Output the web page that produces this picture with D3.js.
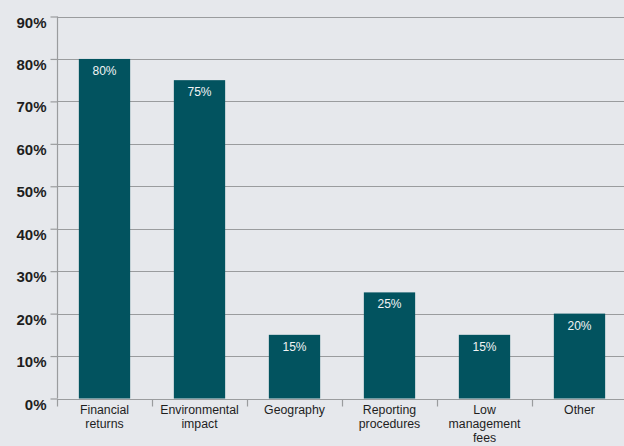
<!DOCTYPE html>
<html>
<head>
<meta charset="utf-8">
<script src="https://cdn.jsdelivr.net/npm/d3@7"></script>
<style>
  html, body { margin: 0; padding: 0; background: #e6e8ec; }
  svg { display: block; }
</style>
</head>
<body>
<svg id="chart" width="624" height="446"></svg>
<script>
// Survey: factors considered (share of respondents)
const categories = [
  ["Financial", "returns"],
  ["Environmental", "impact"],
  ["Geography"],
  ["Reporting", "procedures"],
  ["Low", "management", "fees"],
  ["Other"]
];
const values = [80, 75, 15, 25, 15, 20];
const yTicks = [0, 10, 20, 30, 40, 50, 60, 70, 80, 90];

const W = 624, H = 446;
const margin = { top: 16.5, right: -3, bottom: 47.5, left: 57 };
const svg = d3.select("#chart");
const FONT = "Liberation Sans, Arial, sans-serif";
const GRID = "#9a9c9e";

const x = d3.scaleBand()
  .domain(d3.range(categories.length))
  .range([margin.left, W - margin.right])
  .paddingInner(0.46)
  .paddingOuter(0.23);

const y = d3.scaleLinear()
  .domain([0, 90])
  .range([H - margin.bottom, margin.top]);

const y0 = Math.round(y(0)) + 0.5;

// horizontal gridlines
svg.append("g")
  .selectAll("line")
  .data(yTicks)
  .join("line")
  .attr("x1", margin.left)
  .attr("x2", W)
  .attr("y1", d => Math.round(y(d)) + 0.5)
  .attr("y2", d => Math.round(y(d)) + 0.5)
  .attr("stroke", GRID)
  .attr("stroke-width", 1.2);

// bars
svg.append("g")
  .selectAll("rect")
  .data(values)
  .join("rect")
  .attr("x", (d, i) => x(i))
  .attr("y", d => y(d))
  .attr("width", x.bandwidth())
  .attr("height", d => y(0) - y(d))
  .attr("fill", "#02535f");

// value labels
svg.append("g")
  .selectAll("text")
  .data(values)
  .join("text")
  .attr("x", (d, i) => x(i) + x.bandwidth() / 2)
  .attr("y", d => y(d) + 16)
  .attr("text-anchor", "middle")
  .attr("font-family", FONT)
  .attr("font-size", 12)
  .attr("fill", "#f2f4f5")
  .text(d => d + "%");

// y axis
const yAxis = d3.axisLeft(y)
  .tickValues(yTicks)
  .tickFormat(d => d + "%")
  .tickSize(7)
  .tickPadding(4);
const gy = svg.append("g")
  .attr("transform", `translate(${margin.left + 0.5},0)`)
  .call(yAxis);
gy.select(".domain").attr("stroke", GRID).attr("stroke-width", 1.2)
  .attr("d", `M0,${y(90)}V${y(0)}`);
gy.selectAll(".tick line").attr("stroke", GRID).attr("stroke-width", 1.2);
gy.selectAll(".tick text")
  .attr("font-family", FONT)
  .attr("font-size", 15)
  .attr("font-weight", "bold")
  .attr("fill", "#1e1e1e")
  .attr("dy", "0.7em");

// x axis baseline with separators between categories
const step = x.step();
const start = x(0) - x.paddingOuter() * step;
const bounds = d3.range(categories.length + 1).map(i => start + i * step);
const gx = svg.append("g");
gx.append("line")
  .attr("x1", margin.left)
  .attr("x2", W)
  .attr("y1", y0)
  .attr("y2", y0)
  .attr("stroke", GRID)
  .attr("stroke-width", 1.2);
gx.selectAll("line.sep")
  .data(bounds)
  .join("line")
  .attr("class", "sep")
  .attr("x1", d => Math.round(d) + 0.5)
  .attr("x2", d => Math.round(d) + 0.5)
  .attr("y1", y0)
  .attr("y2", y0 + 7)
  .attr("stroke", GRID)
  .attr("stroke-width", 1.2);

// category labels
const labels = gx.selectAll("text.cat")
  .data(categories)
  .join("text")
  .attr("class", "cat")
  .attr("x", (d, i) => x(i) + x.bandwidth() / 2)
  .attr("y", y(0) + 15.5)
  .attr("text-anchor", "middle")
  .attr("font-family", FONT)
  .attr("font-size", 12.3)
  .attr("fill", "#1e1e1e");
labels.selectAll("tspan")
  .data(d => d)
  .join("tspan")
  .attr("x", function () { return this.parentNode.getAttribute("x"); })
  .attr("dy", (d, i) => i === 0 ? 0 : 14)
  .text(d => d);
</script>
</body>
</html>
